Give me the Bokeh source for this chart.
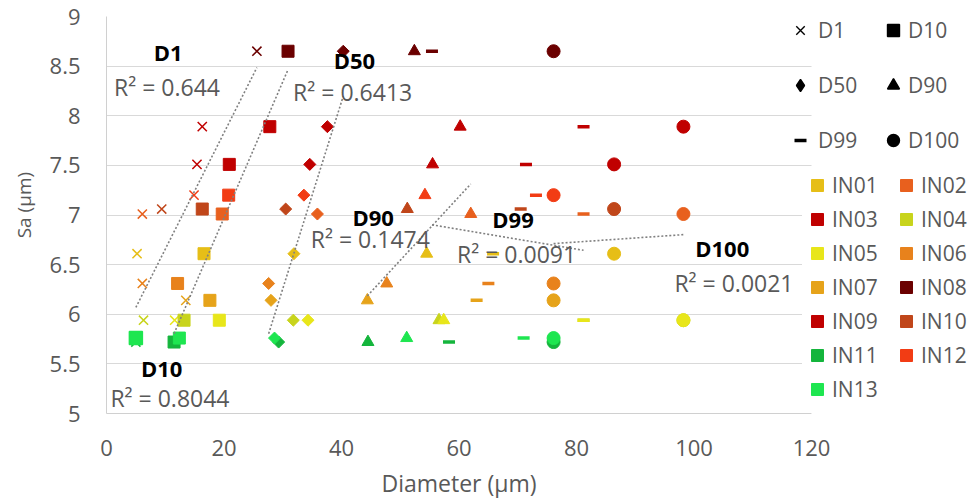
import numpy as np
from bokeh.plotting import figure
from bokeh.models import (ColumnDataSource, Label, Legend, LegendItem, BoxAnnotation,
                          FixedTicker, NumeralTickFormatter, Range1d)
from bokeh.embed import file_html
from bokeh.resources import INLINE

# ---------------- data ----------------
samples = ["IN01", "IN02", "IN03", "IN04", "IN05", "IN06", "IN07",
           "IN08", "IN09", "IN10", "IN11", "IN12", "IN13"]
sample_colors = ["#E6BE17", "#E8601E", "#C00000", "#C8D41C", "#E8E61A", "#E8821C", "#E6A31A",
                 "#6B0000", "#C00000", "#C0461A", "#14B53C", "#F23C14", "#1EE650"]
sa = [6.61, 7.01, 7.89, 5.94, 5.94, 6.31, 6.14, 8.65, 7.51, 7.06, 5.72, 7.20, 5.76]

d1 = [5.2, 6.1, 16.3, 6.3, 11.6, 6.1, 13.5, 25.6, 15.4, 9.4, 5.0, 14.9, 5.0]
d10 = [16.6, 19.7, 27.8, 13.2, 19.2, 12.1, 17.6, 30.9, 20.9, 16.3, 11.5, 20.8, 12.4]
d50 = [31.9, 35.9, 37.6, 31.8, 34.3, 27.6, 28.0, 40.3, 34.6, 30.5, 29.3, 33.6, 28.6]
d90 = [54.5, 62.0, 60.2, 56.6, 57.4, 47.7, 44.4, 52.4, 55.5, 51.2, 44.5, 54.2, 51.1]
d99 = [65.8, 81.2, 81.2, 81.2, 81.2, 65.0, 63.0, 55.4, 71.4, 70.5, 58.3, 73.1, 71.0]
d100 = [86.4, 98.2, 98.2, 98.2, 98.2, 76.1, 76.1, 76.1, 86.4, 86.4, 76.1, 76.1, 76.1]

series_names = ["D1", "D10", "D50", "D90", "D99", "D100"]
series_values = [d1, d10, d50, d90, d99, d100]
r2_texts = ["R² = 0.644", "R² = 0.8044", "R² = 0.6413", "R² = 0.1474", "R² = 0.0091", "R² = 0.0021"]

x_ticks = [0, 20, 40, 60, 80, 100, 120]
y_ticks = [5, 5.5, 6, 6.5, 7, 7.5, 8, 8.5, 9]
x_axis_end = 120
y_axis_range = (5, 9)
x_title = "Diameter (µm)"
y_title = "Sa (µm)"

# ---------------- styling / layout ----------------
FONT = "Open Sans"
GREY = "#595959"
W, H = 979, 498
LEFT, TOP, FRAME_H = 106, 16, 397
AXIS_PX = 705          # pixel length of the 0..120 axis
FRAME_W = W - LEFT     # frame runs to the right edge, legend lives there
x_view_end = x_axis_end * FRAME_W / AXIS_PX

styles = {
    "D1": ("x", 13, 1.5, 0.0),
    "D10": ("square", 12, 1, 0.0),
    "D50": ("square", 8.5, 1, np.pi / 4),
    "D90": ("triangle", 12, 1, 0.0),
    "D99": ("dash", 12, 3.5, 0.0),
    "D100": ("circle", 13, 1, 0.0),
}
legend_markers = {"D1": "x", "D10": "square", "D50": "diamond",
                  "D90": "triangle", "D99": "dash", "D100": "circle"}
name_pos = {"D1": (10.5, 8.64), "D10": (9.4, 5.46), "D50": (42.2, 8.56),
            "D90": (45.4, 6.98), "D99": (69.2, 6.96), "D100": (104.8, 6.67)}
r2_pos = {"D1": (10.3, 8.285), "D10": (10.8, 5.156), "D50": (41.9, 8.244),
          "D90": (44.9, 6.763), "D99": (69.8, 6.612), "D100": (106.8, 6.31)}
x_title_pos = (60.0, 4.3)
y_title_pos = (-14.1, 7.1)

p = figure(width=W, height=H, x_range=Range1d(0, x_view_end), y_range=Range1d(*y_axis_range),
           output_backend="svg", toolbar_location=None,
           min_border_left=LEFT, min_border_right=0, min_border_top=TOP,
           min_border_bottom=H - TOP - FRAME_H)
p.outline_line_color = None
p.background_fill_color = "white"
p.border_fill_color = "white"

p.xgrid.visible = False
p.ygrid.grid_line_color = "#D9D9D9"
p.ygrid.grid_line_width = 1

p.xaxis.ticker = FixedTicker(ticks=x_ticks)
p.yaxis.ticker = FixedTicker(ticks=y_ticks)
p.xaxis.bounds = (0, x_axis_end)
p.yaxis.formatter = NumeralTickFormatter(format="0.[0]")
p.xaxis.formatter = NumeralTickFormatter(format="0")
for ax in (p.xaxis, p.yaxis):
    ax.axis_line_color = "#D0D0D0"
    ax.major_tick_line_color = None
    ax.minor_tick_line_color = None
    ax.major_tick_out = 0
    ax.major_tick_in = 0
    ax.major_label_text_font = FONT
    ax.major_label_text_font_size = "22px"
    ax.major_label_text_color = GREY
p.yaxis.major_label_standoff = 26
p.xaxis.major_label_standoff = 26

# axis titles placed in the side panels (not clipped), centred on the plot area
p.add_layout(Label(x=x_title_pos[0], y=x_title_pos[1], text=x_title, text_align="center",
                   text_baseline="middle", text_font=FONT, text_font_size="23px",
                   text_color=GREY), "below")
p.add_layout(Label(x=y_title_pos[0], y=y_title_pos[1], text=y_title, text_align="center",
                   text_baseline="middle", angle=np.pi / 2, text_font=FONT,
                   text_font_size="19px", text_color=GREY), "left")

# ---------------- points ----------------
renderers = {}
for name, vals in zip(series_names, series_values):
    marker, size, lw, ang = styles[name]
    markers = [marker] * len(samples)
    if name == "D1":
        markers[-1] = "square"
    src = ColumnDataSource(dict(x=vals, y=sa, color=sample_colors, marker=markers,
                                sample=samples))
    r = p.scatter("x", "y", source=src, marker="marker", size=size, angle=ang,
                  fill_color="color", line_color="color", line_width=lw)
    renderers[name] = r

# ---------------- trendlines (least squares on the data) ----------------
for name, vals in zip(series_names, series_values):
    xv = np.array(vals, dtype=float)
    yv = np.array(sa, dtype=float)
    k, b = np.polyfit(xv, yv, 1)
    xs = [xv.min(), xv.max()]
    ys = [k * xs[0] + b, k * xs[1] + b]
    p.line(xs, ys, line_color="#808080", line_width=1.6, line_dash="2 2")

for name, r2 in zip(series_names, r2_texts):
    nx, ny = name_pos[name]
    p.add_layout(Label(x=nx, y=ny, text=name, text_align="center", text_baseline="middle",
                       text_font=FONT, text_font_size="22px", text_font_style="bold",
                       text_color="black"))
    rx, ry = r2_pos[name]
    p.add_layout(Label(x=rx, y=ry, text=r2, text_align="center", text_baseline="middle",
                       text_font=FONT, text_font_size="23px", text_color=GREY))

# white area right of the plot area (legend region)
p.add_layout(BoxAnnotation(left=x_axis_end, fill_color="white", fill_alpha=1.0,
                           line_color=None))

# ---------------- legends ----------------
dummy = {}
for name in series_names:
    esrc = ColumnDataSource(dict(x=[np.nan], y=[np.nan]))
    lw = 3.5 if name == "D99" else 1.4
    dummy[name] = p.scatter("x", "y", source=esrc, marker=legend_markers[name], size=10,
                            fill_color="black", line_color="black", line_width=lw)


def make_legend(items, vx, vy, gw, standoff, gh, spacing, bg):
    lg = Legend(items=items, location=(vx, vy), orientation="vertical",
                glyph_width=gw, glyph_height=gh, label_standoff=standoff, spacing=spacing,
                padding=0, margin=0, border_line_color=None,
                background_fill_color="white", background_fill_alpha=1.0 if bg else 0.0,
                label_text_font=FONT, label_text_font_size="21px",
                label_text_color=GREY, label_height=20)
    p.add_layout(lg)
    return lg


col1 = ["D1", "D50", "D99"]
col2 = ["D10", "D90", "D100"]
make_legend([LegendItem(label=n, renderers=[dummy[n]]) for n in col1], 679, 258, 30, 3, 30, 25, False)
make_legend([LegendItem(label=n, renderers=[dummy[n]]) for n in col2], 772, 258, 30, 0, 30, 25, False)

in_c1 = [i for i in range(len(samples)) if i % 2 == 0]
in_c2 = [i for i in range(len(samples)) if i % 2 == 1]
make_legend([LegendItem(label=samples[i], renderers=[renderers["D10"]], index=i) for i in in_c1],
            696, 9, 30, 0, 30, 4, True)
make_legend([LegendItem(label=samples[i], renderers=[renderers["D10"]], index=i) for i in in_c2],
            785, 43, 30, 0, 30, 4, True)

open("out.html", "w").write(file_html(p, INLINE))
